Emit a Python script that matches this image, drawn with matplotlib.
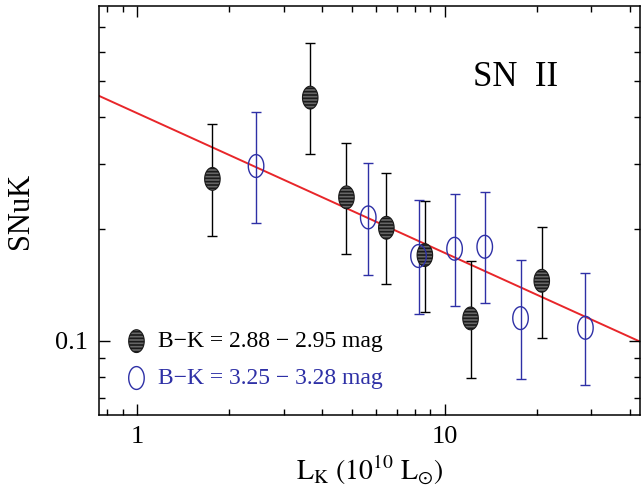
import numpy as np
import matplotlib
matplotlib.use('Agg')
import matplotlib.pyplot as plt
from matplotlib.path import Path

plt.rcParams['font.family'] = ['Liberation Serif', 'DejaVu Serif']
plt.rcParams['mathtext.fontset'] = 'stix'
plt.rcParams['hatch.linewidth'] = 1.2

# B-K = 2.88 - 2.95 mag (filled, black)
lk_red = [1.76, 3.66, 4.80, 6.47, 8.63, 12.15, 20.7]
snuk_red = [0.273, 0.452, 0.2435, 0.2016, 0.1702, 0.1149, 0.1451]
snuk_red_hi = [0.383, 0.633, 0.3405, 0.2831, 0.2385, 0.164, 0.2029]
snuk_red_lo = [0.192, 0.318, 0.171, 0.1419, 0.1195, 0.0792, 0.1019]

# B-K = 3.25 - 3.28 mag (open, blue)
lk_blue = [2.44, 5.65, 8.23, 10.78, 13.51, 17.66, 28.7]
snuk_blue = [0.2957, 0.215, 0.1692, 0.177, 0.1792, 0.1151, 0.1084]
snuk_blue_hi = [0.4142, 0.3007, 0.239, 0.2481, 0.2512, 0.1647, 0.1519]
snuk_blue_lo = [0.2076, 0.1506, 0.1178, 0.124, 0.1261, 0.079, 0.0761]

# fitted line end points
fit_lk = [0.753, 43.3]
fit_snuk = [0.457, 0.0994]

blue = '#2e30a6'

# tall ellipse marker
t = np.linspace(0, 2 * np.pi, 60)
ellipse = Path(np.column_stack([0.68 * np.cos(t), np.sin(t)]), closed=True)

fig = plt.figure(figsize=(6.41, 4.87), dpi=100)
ax = fig.add_axes([0.1544, 0.1478, 0.8446, 0.8399])

ax.plot(fit_lk, fit_snuk, color='#e8262a', lw=1.4, zorder=1)

def err(y, hi, lo):
    y = np.array(y)
    return [y - np.array(lo), np.array(hi) - y]

ax.errorbar(lk_red, snuk_red, yerr=err(snuk_red, snuk_red_hi, snuk_red_lo),
            fmt='none', ecolor='black', elinewidth=1.0, capsize=3.6, capthick=1.0, zorder=2)
ax.errorbar(lk_blue, snuk_blue, yerr=err(snuk_blue, snuk_blue_hi, snuk_blue_lo),
            fmt='none', ecolor=blue, elinewidth=1.0, capsize=3.6, capthick=1.0, zorder=2)

h1 = ax.scatter(lk_red, snuk_red, s=270, marker=ellipse, facecolor='#666666',
                edgecolor='#1a1a1a', linewidth=0.8, hatch='-----', zorder=3,
                label='B\u2212K = 2.88 \u2212 2.95 mag')
h2 = ax.scatter(lk_blue, snuk_blue, s=270, marker=ellipse, facecolor='none',
                edgecolor=blue, linewidth=1.0, zorder=3,
                label='B\u2212K = 3.25 \u2212 3.28 mag')

ax.set_xscale('log')
ax.set_yscale('log')
ax.set_xlim(0.753, 43.3)
ax.set_ylim(0.0631, 0.798)

ax.xaxis.set_major_formatter(matplotlib.ticker.FuncFormatter(lambda v, p: '%g' % v))
ax.yaxis.set_major_formatter(matplotlib.ticker.FuncFormatter(lambda v, p: '%g' % v))
ax.xaxis.set_minor_formatter(matplotlib.ticker.NullFormatter())
ax.yaxis.set_minor_formatter(matplotlib.ticker.NullFormatter())

ax.tick_params(which='both', direction='in', top=True, right=True, width=1.0)
ax.tick_params(which='major', length=8, labelsize=19, pad=8)
ax.tick_params(which='minor', length=4.5)
for s in ax.spines.values():
    s.set_linewidth(1.1)

ax.set_xlabel(r'$\mathrm{L_K\ (10^{10}\ L_{\odot})}$', fontsize=20, labelpad=4)
ax.set_ylabel('SNuK', fontsize=22, labelpad=14)

ax.text(0.769, 0.824, 'SN  II', transform=ax.transAxes, fontsize=25,
        ha='center', va='center')

leg = ax.legend(handles=[h1, h2], loc='center left', bbox_to_anchor=(0.03, 0.1345),
                frameon=False, fontsize=17, handlelength=1.0, handletextpad=0.4,
                labelspacing=0.65, borderaxespad=0)
for txt, c in zip(leg.get_texts(), ['black', blue]):
    txt.set_color(c)

fig.savefig('out.png', dpi=100)
